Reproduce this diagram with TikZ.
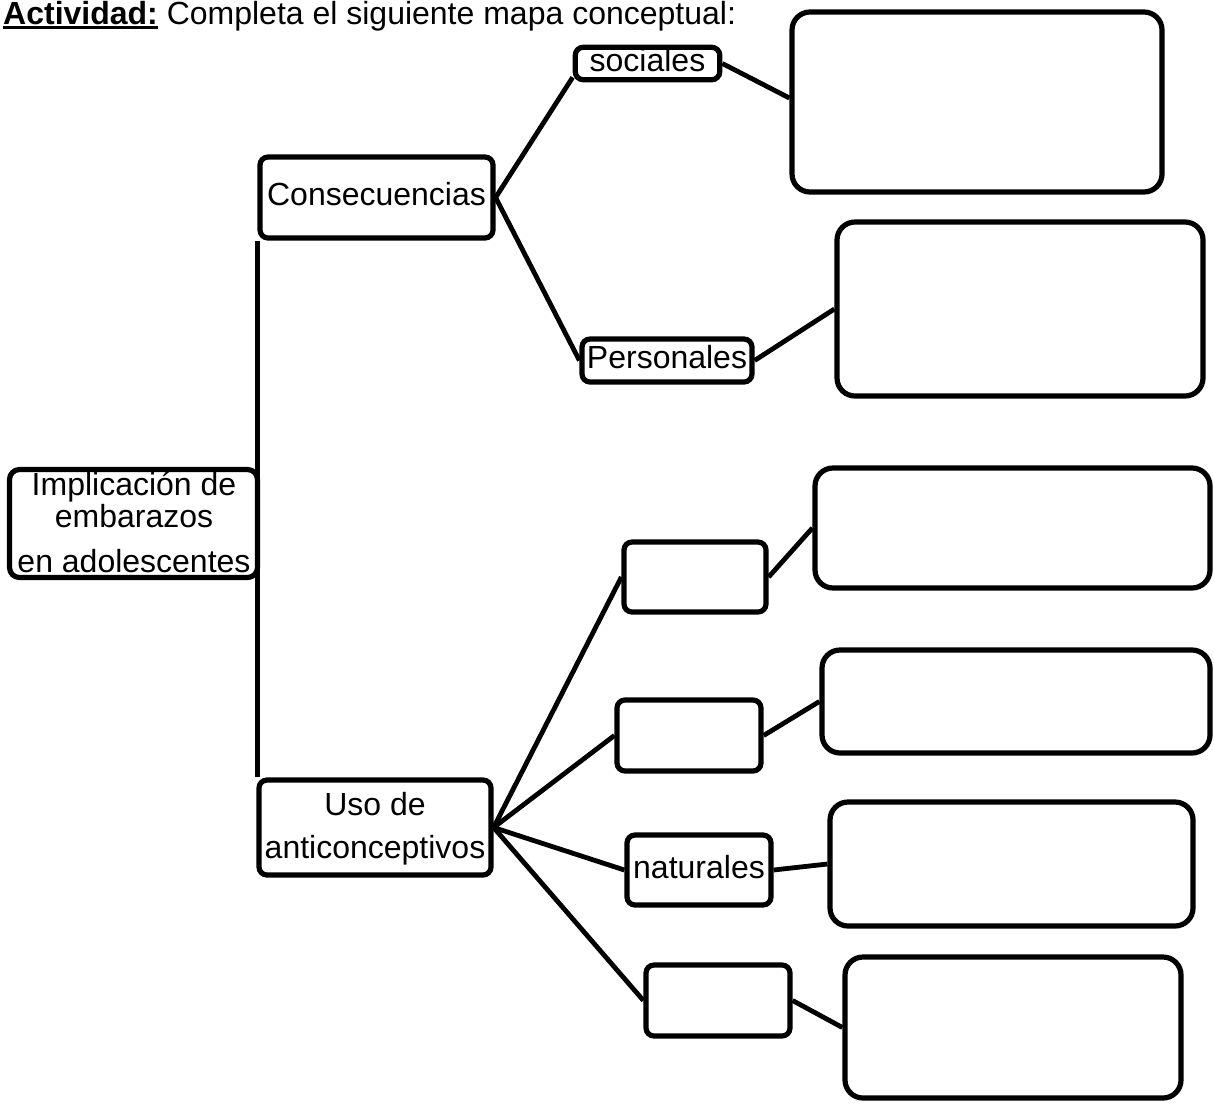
\documentclass[tikz,border=0pt]{standalone}
\usepackage{fontspec}
\setmainfont{Liberation Sans}
\newcommand\myuline[1]{\setbox0\hbox{#1}\rlap{\rule[-4.5pt]{\wd0}{2.6pt}}\box0\relax}
\begin{document}
\begin{tikzpicture}[x=1pt,y=-1pt,
  every node/.style={font=\fontsize{32}{32}\selectfont, inner sep=0pt},
  box/.style={draw, line width=5.2pt, rounded corners=8pt, text height=23pt, text depth=7pt},
  bigbox/.style={draw, line width=5.2pt, rounded corners=18pt},
  link/.style={line width=4.8pt},
  lbl/.style={anchor=base}]
\useasboundingbox (0,0) rectangle (1214,1103);

% title
\node[anchor=base west] (title) at (3,24) {\myuline{\textbf{Actividad:}} Completa el siguiente mapa conceptual:};

% root
\node[box, rounded corners=10pt, minimum width=248pt, minimum height=108pt] (root) at (133.5,523.5) {};
\node[lbl] (r1) at (134,495) {Implicación de};
\node[lbl] (r2) at (134,527) {embarazos};
\node[lbl] (r3) at (134,572) {en adolescentes};

% first level
\node[box, minimum width=233pt, minimum height=81pt] (cons) at (376.5,197.5) {Consecuencias};
\node[box, minimum width=232pt, minimum height=95pt] (uso) at (375,827.5) {};
\node[lbl] (u1) at (375,815) {Uso de};
\node[lbl] (u2) at (375,858) {anticonceptivos};

% second level
\node[box, minimum width=144.5pt, minimum height=32.5pt] (soc) at (647.5,63.5) {sociales};
\node[box, minimum width=170pt, minimum height=43pt] (pers) at (667,360.5) {Personales};
\node[box, minimum width=142pt, minimum height=70pt] (boxA) at (695,577) {};
\node[box, minimum width=144pt, minimum height=71pt] (boxB) at (689,735.5) {};
\node[box, minimum width=144pt, minimum height=70pt] (nat) at (699,870) {naturales};
\node[box, minimum width=144pt, minimum height=71pt] (boxD) at (718,1000.5) {};

% big answer boxes
\node[bigbox, minimum width=370pt, minimum height=180pt] (big1) at (977,102) {};
\node[bigbox, minimum width=366pt, minimum height=174pt] (big2) at (1020,309) {};
\node[bigbox, minimum width=395pt, minimum height=120pt] (big3) at (1012.5,528) {};
\node[bigbox, minimum width=388pt, minimum height=103pt] (big4) at (1016,701.5) {};
\node[bigbox, minimum width=363pt, minimum height=124pt] (big5) at (1011.5,864) {};
\node[bigbox, minimum width=336pt, minimum height=141pt] (big6) at (1013,1027.5) {};

% connectors
\draw[link] (cons.south west) -- (cons.south west |- uso.north);
\draw[link] (cons.east) -- ([yshift=5pt]soc.south west);
\draw[link] (cons.east) -- (pers.west);
\draw[link] (soc.east) -- ([yshift=4pt]big1.west);
\draw[link] (pers.east) -- (big2.west);
\draw[link] (uso.east) -- (boxA.west);
\draw[link] (uso.east) -- (boxB.west);
\draw[link] (uso.east) -- (nat.west);
\draw[link] (uso.east) -- (boxD.west);
\draw[link] (boxA.east) -- (big3.west);
\draw[link] (boxB.east) -- (big4.west);
\draw[link] (nat.east) -- (big5.west);
\draw[link] (boxD.east) -- (big6.west);
\end{tikzpicture}
\end{document}
